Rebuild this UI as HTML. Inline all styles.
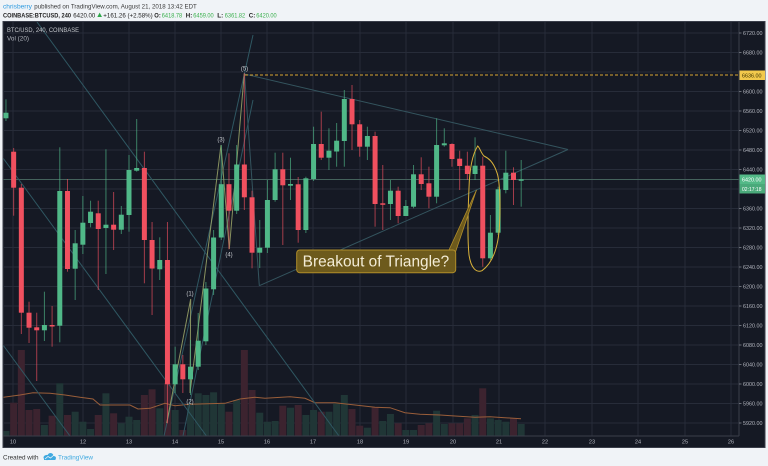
<!DOCTYPE html>
<html><head><meta charset="utf-8"><style>
html,body{margin:0;padding:0;background:#f0f3f7;}
svg{display:block;}
text{font-family:"Liberation Sans",sans-serif;}
</style></head><body>
<svg width="768" height="466" viewBox="0 0 768 466" xmlns="http://www.w3.org/2000/svg">
<rect x="0" y="0" width="768" height="466" fill="#f0f3f7"/>
<!-- header -->
<text x="3" y="8.3" font-size="6.5" fill="#2f9be0" textLength="29" lengthAdjust="spacingAndGlyphs">chrisberry</text>
<text x="34.3" y="8.3" font-size="6.5" fill="#3a3a3a" textLength="162.5" lengthAdjust="spacingAndGlyphs">published on TradingView.com, August 21, 2018 13:42 EDT</text>
<text x="3" y="17.3" font-size="6.5" font-weight="bold" fill="#222" textLength="68" lengthAdjust="spacingAndGlyphs">COINBASE:BTCUSD, 240</text>
<text x="73.3" y="17.3" font-size="6.5" fill="#222" textLength="22" lengthAdjust="spacingAndGlyphs">6420.00</text>
<polygon points="97.3,17 102,17 99.65,12.6" fill="#2ea84a"/>
<text x="103.3" y="17.3" font-size="6.5" fill="#222" textLength="49.4" lengthAdjust="spacingAndGlyphs">+161.26 (+2.58%)</text>
<text x="154.3" y="17.3" font-size="6.5" font-weight="bold" fill="#222" textLength="6.5" lengthAdjust="spacingAndGlyphs">O:</text>
<text x="161.8" y="17.3" font-size="6.5" fill="#3bb04e" textLength="20.4" lengthAdjust="spacingAndGlyphs">6418.78</text>
<text x="185.8" y="17.3" font-size="6.5" font-weight="bold" fill="#222" textLength="6.5" lengthAdjust="spacingAndGlyphs">H:</text>
<text x="193.3" y="17.3" font-size="6.5" fill="#3bb04e" textLength="20.4" lengthAdjust="spacingAndGlyphs">6459.00</text>
<text x="217.3" y="17.3" font-size="6.5" font-weight="bold" fill="#222" textLength="6" lengthAdjust="spacingAndGlyphs">L:</text>
<text x="224.8" y="17.3" font-size="6.5" fill="#3bb04e" textLength="20.4" lengthAdjust="spacingAndGlyphs">6361.82</text>
<text x="248.8" y="17.3" font-size="6.5" font-weight="bold" fill="#222" textLength="6.5" lengthAdjust="spacingAndGlyphs">C:</text>
<text x="256.3" y="17.3" font-size="6.5" fill="#3bb04e" textLength="20.4" lengthAdjust="spacingAndGlyphs">6420.00</text>

<!-- chart frame -->
<rect x="3" y="21.5" width="762" height="426" fill="#151924" stroke="#3a3e4a" stroke-width="1"/>
<defs><clipPath id="pc"><rect x="3.5" y="22" width="735.5" height="414"/></clipPath></defs>

<!-- grid -->
<g stroke="#272c39" stroke-width="1">
<line x1="3" y1="33" x2="739" y2="33"/><line x1="3" y1="52.5" x2="739" y2="52.5"/><line x1="3" y1="72" x2="739" y2="72"/><line x1="3" y1="91.5" x2="739" y2="91.5"/><line x1="3" y1="111" x2="739" y2="111"/><line x1="3" y1="130.5" x2="739" y2="130.5"/><line x1="3" y1="150" x2="739" y2="150"/><line x1="3" y1="169.5" x2="739" y2="169.5"/><line x1="3" y1="189" x2="739" y2="189"/><line x1="3" y1="208.5" x2="739" y2="208.5"/><line x1="3" y1="228" x2="739" y2="228"/><line x1="3" y1="247.5" x2="739" y2="247.5"/><line x1="3" y1="267" x2="739" y2="267"/><line x1="3" y1="286.5" x2="739" y2="286.5"/><line x1="3" y1="306" x2="739" y2="306"/><line x1="3" y1="325.5" x2="739" y2="325.5"/><line x1="3" y1="345" x2="739" y2="345"/><line x1="3" y1="364.5" x2="739" y2="364.5"/><line x1="3" y1="384" x2="739" y2="384"/><line x1="3" y1="403.5" x2="739" y2="403.5"/><line x1="3" y1="423" x2="739" y2="423"/>
<line x1="13" y1="22" x2="13" y2="436"/><line x1="83" y1="22" x2="83" y2="436"/><line x1="129" y1="22" x2="129" y2="436"/><line x1="175" y1="22" x2="175" y2="436"/><line x1="221" y1="22" x2="221" y2="436"/><line x1="267" y1="22" x2="267" y2="436"/><line x1="313" y1="22" x2="313" y2="436"/><line x1="360" y1="22" x2="360" y2="436"/><line x1="406" y1="22" x2="406" y2="436"/><line x1="453" y1="22" x2="453" y2="436"/><line x1="499" y1="22" x2="499" y2="436"/><line x1="545" y1="22" x2="545" y2="436"/><line x1="592" y1="22" x2="592" y2="436"/><line x1="638" y1="22" x2="638" y2="436"/><line x1="685" y1="22" x2="685" y2="436"/><line x1="731" y1="22" x2="731" y2="436"/>
</g>

<g clip-path="url(#pc)">
<!-- volume -->
<g fill="#3c232f">
<rect x="10.15" y="402.7" width="7" height="33.3"/><rect x="17.84" y="350" width="7" height="86"/><rect x="25.53" y="410" width="7" height="26"/><rect x="33.22" y="409" width="7" height="27"/><rect x="48.6" y="415.7" width="7" height="20.3"/><rect x="63.98" y="415" width="7" height="21"/><rect x="94.74" y="415" width="7" height="21"/><rect x="110.12" y="413.3" width="7" height="22.7"/><rect x="140.88" y="395" width="7" height="41"/><rect x="148.57" y="389.3" width="7" height="46.7"/><rect x="163.95" y="383" width="7" height="53"/><rect x="179.33" y="430" width="7" height="6"/><rect x="225.47" y="411.7" width="7" height="24.3"/><rect x="240.85" y="350" width="7" height="86"/><rect x="248.54" y="390" width="7" height="46"/><rect x="279.3" y="405.7" width="7" height="30.3"/><rect x="294.68" y="405" width="7" height="31"/><rect x="317.75" y="411.7" width="7" height="24.3"/><rect x="348.51" y="409" width="7" height="27"/><rect x="356.2" y="425.7" width="7" height="10.3"/><rect x="371.58" y="407.3" width="7" height="28.7"/><rect x="394.65" y="423.3" width="7" height="12.7"/><rect x="417.72" y="425" width="7" height="11"/><rect x="425.41" y="423.3" width="7" height="12.7"/><rect x="448.48" y="423.3" width="7" height="12.7"/><rect x="456.17" y="423.3" width="7" height="12.7"/><rect x="463.86" y="418.3" width="7" height="17.7"/><rect x="479.24" y="388.3" width="7" height="47.7"/><rect x="510" y="418.3" width="7" height="17.7"/>
</g>
<g fill="#203636">
<rect x="2.46" y="431" width="7" height="5"/><rect x="40.91" y="425" width="7" height="11"/><rect x="56.29" y="383.3" width="7" height="52.7"/><rect x="71.67" y="411.7" width="7" height="24.3"/><rect x="79.36" y="421.7" width="7" height="14.3"/><rect x="87.05" y="429" width="7" height="7"/><rect x="102.43" y="393.3" width="7" height="42.7"/><rect x="117.81" y="423.3" width="7" height="12.7"/><rect x="125.5" y="416.7" width="7" height="19.3"/><rect x="133.19" y="420" width="7" height="16"/><rect x="156.26" y="408.3" width="7" height="27.7"/><rect x="171.64" y="410" width="7" height="26"/><rect x="187.02" y="403.3" width="7" height="32.7"/><rect x="194.71" y="393.3" width="7" height="42.7"/><rect x="202.4" y="395" width="7" height="41"/><rect x="210.09" y="392.3" width="7" height="43.7"/><rect x="217.78" y="403.3" width="7" height="32.7"/><rect x="233.16" y="400" width="7" height="36"/><rect x="256.23" y="412.7" width="7" height="23.3"/><rect x="263.92" y="421.7" width="7" height="14.3"/><rect x="271.61" y="421" width="7" height="15"/><rect x="286.99" y="407.7" width="7" height="28.3"/><rect x="302.37" y="415" width="7" height="21"/><rect x="310.06" y="410" width="7" height="26"/><rect x="325.44" y="411.7" width="7" height="24.3"/><rect x="333.13" y="403.3" width="7" height="32.7"/><rect x="340.82" y="395" width="7" height="41"/><rect x="363.89" y="427.7" width="7" height="8.3"/><rect x="379.27" y="421" width="7" height="15"/><rect x="386.96" y="414" width="7" height="22"/><rect x="402.34" y="430" width="7" height="6"/><rect x="410.03" y="430" width="7" height="6"/><rect x="433.1" y="410.7" width="7" height="25.3"/><rect x="440.79" y="424" width="7" height="12"/><rect x="471.55" y="415" width="7" height="21"/><rect x="486.93" y="418.3" width="7" height="17.7"/><rect x="494.62" y="420" width="7" height="16"/><rect x="502.31" y="421.7" width="7" height="14.3"/><rect x="517.69" y="424" width="7" height="12"/>
</g>
<!-- volume MA -->
<polyline fill="none" stroke="#9a5e3a" stroke-width="1" points="3,397.3 20,395 33,392.7 50,393.3 65,395 80,397.3 93,399 100,405 130,405 138,409 150,408.3 165,403.3 175,405.7 190,404.3 225,403.3 240,399 255,397.3 265,398.3 290,396.7 305,398.3 315,402.7 335,402.7 355,405 375,407.3 390,407.7 405,412.7 420,414.3 440,415 455,416 475,417.3 490,416.7 505,417.7 521,418.7"/>

<!-- horizontal price line -->
<line x1="3" y1="179.5" x2="739" y2="179.5" stroke="#44625c" stroke-width="1"/>

<!-- diagonal trend lines -->
<g stroke="#2f5762" stroke-width="1" fill="none">
<line x1="37" y1="22" x2="339" y2="436"/>
<line x1="3" y1="158" x2="206.5" y2="436"/>
<line x1="3" y1="345" x2="70" y2="436"/>
<line x1="253" y1="35" x2="164" y2="436"/>
<line x1="253" y1="100" x2="183" y2="436"/>
</g>
<!-- triangle -->
<g stroke="#34545e" stroke-width="1" fill="none">
<line x1="244.5" y1="74" x2="568" y2="149.5"/>
<line x1="259.3" y1="285.7" x2="568" y2="149.5"/>
<line x1="244.5" y1="74" x2="259.3" y2="285.7"/>
</g>
<!-- wave lines -->
<polyline fill="none" stroke="#9ea86a" stroke-width="1" opacity="0.85" points="166.7,423 190.7,299 190,393 221,145 229.3,249 244.3,73.3"/>

<!-- candles -->
<g id="wk" opacity="0.65">
<g fill="#50b888">
<rect x="5.46" y="99.3" width="1" height="21.7"/><rect x="43.91" y="291.7" width="1" height="49.3"/><rect x="59.29" y="147.3" width="1" height="195"/><rect x="74.67" y="230" width="1" height="70"/><rect x="82.36" y="196" width="1" height="58"/><rect x="90.05" y="200.7" width="1" height="26.6"/><rect x="105.43" y="149.3" width="1" height="124.7"/><rect x="120.81" y="206" width="1" height="28"/><rect x="128.5" y="155" width="1" height="76.7"/><rect x="136.19" y="119" width="1" height="52.7"/><rect x="159.26" y="237.3" width="1" height="42.7"/><rect x="174.64" y="346.7" width="1" height="46.3"/><rect x="190.02" y="340" width="1" height="55"/><rect x="197.71" y="313" width="1" height="57"/><rect x="205.4" y="282" width="1" height="63"/><rect x="213.09" y="230" width="1" height="65"/><rect x="220.78" y="145" width="1" height="95"/><rect x="236.16" y="145" width="1" height="69"/><rect x="259.23" y="220" width="1" height="48"/><rect x="266.92" y="180" width="1" height="73"/><rect x="274.61" y="152.7" width="1" height="49"/><rect x="289.99" y="157.7" width="1" height="42.3"/><rect x="305.37" y="176.7" width="1" height="56.3"/><rect x="313.06" y="126.7" width="1" height="54.3"/><rect x="328.44" y="128.3" width="1" height="41.7"/><rect x="336.13" y="123" width="1" height="43.7"/><rect x="343.82" y="90" width="1" height="76.7"/><rect x="366.89" y="126.7" width="1" height="33.3"/><rect x="389.96" y="180" width="1" height="40"/><rect x="405.34" y="200" width="1" height="13.3"/><rect x="413.03" y="165" width="1" height="43.3"/><rect x="436.1" y="118.3" width="1" height="85"/><rect x="443.79" y="128.3" width="1" height="18.4"/><rect x="474.55" y="137.3" width="1" height="42.7"/><rect x="489.93" y="215" width="1" height="45"/><rect x="497.62" y="186.7" width="1" height="48.3"/><rect x="505.31" y="150.7" width="1" height="42.6"/><rect x="520.69" y="160" width="1" height="46.7"/>
</g>
<g fill="#f0505f">
<rect x="13.15" y="148" width="1" height="67.7"/><rect x="20.84" y="184" width="1" height="150"/><rect x="28.53" y="301.7" width="1" height="41.3"/><rect x="36.22" y="312.7" width="1" height="68.3"/><rect x="51.6" y="306" width="1" height="40.7"/><rect x="66.98" y="179" width="1" height="92.7"/><rect x="97.74" y="200.7" width="1" height="89.3"/><rect x="113.12" y="192" width="1" height="58"/><rect x="143.88" y="151.7" width="1" height="131.6"/><rect x="151.57" y="222" width="1" height="93"/><rect x="166.95" y="222" width="1" height="201.3"/><rect x="182.33" y="355" width="1" height="38"/><rect x="228.47" y="153.3" width="1" height="96"/><rect x="243.85" y="73.3" width="1" height="136.7"/><rect x="251.54" y="190.7" width="1" height="77.6"/><rect x="282.3" y="152.7" width="1" height="92.3"/><rect x="297.68" y="177" width="1" height="65.7"/><rect x="320.75" y="111.7" width="1" height="48.3"/><rect x="351.51" y="85" width="1" height="65"/><rect x="359.2" y="120" width="1" height="36.7"/><rect x="374.58" y="131.7" width="1" height="95"/><rect x="382.27" y="165" width="1" height="65"/><rect x="397.65" y="186.7" width="1" height="36.6"/><rect x="420.72" y="157.3" width="1" height="32.7"/><rect x="428.41" y="166.7" width="1" height="41.6"/><rect x="451.48" y="143.3" width="1" height="23.4"/><rect x="459.17" y="150.7" width="1" height="39.3"/><rect x="466.86" y="151.7" width="1" height="28.3"/><rect x="482.24" y="156.7" width="1" height="110"/><rect x="513" y="167.3" width="1" height="37.7"/>
</g>
</g>
<g fill="#50b888">
<rect x="3.46" y="112.7" width="5" height="5.6"/><rect x="41.91" y="325" width="5" height="5.3"/><rect x="57.29" y="191" width="5" height="134.7"/><rect x="72.67" y="243.3" width="5" height="25.4"/><rect x="80.36" y="222.7" width="5" height="22"/><rect x="88.05" y="211.7" width="5" height="11.3"/><rect x="103.43" y="224.7" width="5" height="3.3"/><rect x="118.81" y="214.7" width="5" height="15"/><rect x="126.5" y="170" width="5" height="45"/><rect x="134.19" y="168" width="5" height="2.7"/><rect x="157.26" y="260" width="5" height="9.3"/><rect x="172.64" y="364.3" width="5" height="20"/><rect x="188.02" y="366.7" width="5" height="12.6"/><rect x="195.71" y="340.7" width="5" height="26"/><rect x="203.4" y="288.5" width="5" height="52.8"/><rect x="211.09" y="237.5" width="5" height="51.8"/><rect x="218.78" y="184.2" width="5" height="53.3"/><rect x="234.16" y="164.5" width="5" height="46.2"/><rect x="257.23" y="247.7" width="5" height="5"/><rect x="264.92" y="200" width="5" height="47.7"/><rect x="272.61" y="169.3" width="5" height="30.7"/><rect x="287.99" y="184" width="5" height="1.7"/><rect x="303.37" y="178.3" width="5" height="51.7"/><rect x="311.06" y="144" width="5" height="35"/><rect x="326.44" y="150.7" width="5" height="7"/><rect x="334.13" y="140.7" width="5" height="10.8"/><rect x="341.82" y="99" width="5" height="42"/><rect x="364.89" y="136" width="5" height="10.7"/><rect x="387.96" y="190.7" width="5" height="13.3"/><rect x="403.34" y="206" width="5" height="10"/><rect x="411.03" y="174.3" width="5" height="32.4"/><rect x="434.1" y="145" width="5" height="51.7"/><rect x="441.79" y="143.3" width="5" height="2"/><rect x="472.55" y="165.7" width="5" height="8.3"/><rect x="487.93" y="232.7" width="5" height="25.6"/><rect x="495.62" y="189.3" width="5" height="43.4"/><rect x="503.31" y="172.7" width="5" height="17.3"/><rect x="518.69" y="179.3" width="5" height="1.5"/>
</g>
<g fill="#f0505f">
<rect x="11.15" y="151.7" width="5" height="36"/><rect x="18.84" y="187.7" width="5" height="125"/><rect x="26.53" y="312.7" width="5" height="15"/><rect x="34.22" y="327.3" width="5" height="3"/><rect x="49.6" y="325" width="5" height="1.5"/><rect x="64.98" y="191" width="5" height="78"/><rect x="95.74" y="213.3" width="5" height="15.7"/><rect x="111.12" y="224.7" width="5" height="5"/><rect x="141.88" y="168" width="5" height="72"/><rect x="149.57" y="240" width="5" height="28.5"/><rect x="164.95" y="260" width="5" height="124.3"/><rect x="180.33" y="364.3" width="5" height="15"/><rect x="226.47" y="184.2" width="5" height="26.5"/><rect x="241.85" y="164.5" width="5" height="32.8"/><rect x="249.54" y="197.3" width="5" height="55.4"/><rect x="280.3" y="169.3" width="5" height="16"/><rect x="295.68" y="184.3" width="5" height="45.7"/><rect x="318.75" y="144" width="5" height="13.7"/><rect x="349.51" y="99" width="5" height="25.3"/><rect x="357.2" y="124.3" width="5" height="22.4"/><rect x="372.58" y="136" width="5" height="68"/><rect x="380.27" y="203.3" width="5" height="1.5"/><rect x="395.65" y="190.7" width="5" height="25.3"/><rect x="418.72" y="174.3" width="5" height="9.7"/><rect x="426.41" y="183.3" width="5" height="13.4"/><rect x="449.48" y="144" width="5" height="15"/><rect x="457.17" y="158.7" width="5" height="7.3"/><rect x="464.86" y="165.7" width="5" height="8.3"/><rect x="480.24" y="165.7" width="5" height="92.6"/><rect x="511" y="172.7" width="5" height="7.3"/>
</g>

<!-- yellow dashed level -->
<line x1="245" y1="75" x2="739" y2="75" stroke="#d9a532" stroke-width="1" stroke-dasharray="3,2"/>

<!-- wave labels -->
<g font-size="6" fill="#c4c7cc" text-anchor="middle">
<text x="190" y="295.5">(1)</text>
<text x="190" y="403.5">(2)</text>
<text x="221" y="141.5">(3)</text>
<text x="229" y="256.5">(4)</text>
<text x="244.5" y="70.5">(5)</text>
</g>

<!-- ellipse annotation -->
<path d="M477.7,146 C480,148 481,153 484,156 C488,158 493,161 496.7,172 C500,180 500.5,205 499.5,225 C498.5,245 494,262 482,270.7 C476,273 471,268 469,255 C467.5,240 468,210 469,188 C469.5,172 472,155 477.7,146 Z" fill="none" stroke="#d9b23a" stroke-width="1"/>

<!-- callout -->
<polygon points="448.5,251 476.5,190 455.5,252" fill="#6d5a1c" stroke="#b08d2a" stroke-width="0.8"/>
<rect x="296.7" y="250" width="159" height="22.7" rx="3" ry="3" fill="#6d5a1c" stroke="#b08d2a" stroke-width="1"/>
<text x="302.7" y="266.3" font-size="15.3" fill="#f3ecd6" textLength="146.5" lengthAdjust="spacingAndGlyphs">Breakout of Triangle?</text>

<!-- chart legend -->
<text x="7" y="32" font-size="6" fill="#c4c7cc" textLength="72" lengthAdjust="spacingAndGlyphs">BTC/USD, 240, COINBASE</text>
<text x="7" y="40.5" font-size="6" fill="#aeb2ba" textLength="22" lengthAdjust="spacingAndGlyphs">Vol (20)</text>
</g>

<!-- axes separators -->
<line x1="739" y1="22" x2="739" y2="436" stroke="#3a3e4a" stroke-width="1"/>
<line x1="3" y1="436" x2="739" y2="436" stroke="#3a3e4a" stroke-width="1"/>

<!-- price axis -->
<g stroke="#6a6e78" stroke-width="1">
<line x1="739" y1="33" x2="741.5" y2="33"/><line x1="739" y1="52.5" x2="741.5" y2="52.5"/><line x1="739" y1="91.5" x2="741.5" y2="91.5"/><line x1="739" y1="111" x2="741.5" y2="111"/><line x1="739" y1="130.5" x2="741.5" y2="130.5"/><line x1="739" y1="150" x2="741.5" y2="150"/><line x1="739" y1="169.5" x2="741.5" y2="169.5"/><line x1="739" y1="208.5" x2="741.5" y2="208.5"/><line x1="739" y1="228" x2="741.5" y2="228"/><line x1="739" y1="247.5" x2="741.5" y2="247.5"/><line x1="739" y1="267" x2="741.5" y2="267"/><line x1="739" y1="286.5" x2="741.5" y2="286.5"/><line x1="739" y1="306" x2="741.5" y2="306"/><line x1="739" y1="325.5" x2="741.5" y2="325.5"/><line x1="739" y1="345" x2="741.5" y2="345"/><line x1="739" y1="364.5" x2="741.5" y2="364.5"/><line x1="739" y1="384" x2="741.5" y2="384"/><line x1="739" y1="403.5" x2="741.5" y2="403.5"/><line x1="739" y1="423" x2="741.5" y2="423"/>
</g>
<g font-size="5.6" fill="#b2b5be">
<text x="743" y="35" textLength="19.5" lengthAdjust="spacingAndGlyphs">6720.00</text>
<text x="743" y="54.5" textLength="19.5" lengthAdjust="spacingAndGlyphs">6680.00</text>
<text x="743" y="93.5" textLength="19.5" lengthAdjust="spacingAndGlyphs">6600.00</text>
<text x="743" y="113" textLength="19.5" lengthAdjust="spacingAndGlyphs">6560.00</text>
<text x="743" y="132.5" textLength="19.5" lengthAdjust="spacingAndGlyphs">6520.00</text>
<text x="743" y="152" textLength="19.5" lengthAdjust="spacingAndGlyphs">6480.00</text>
<text x="743" y="171.5" textLength="19.5" lengthAdjust="spacingAndGlyphs">6440.00</text>
<text x="743" y="210.5" textLength="19.5" lengthAdjust="spacingAndGlyphs">6360.00</text>
<text x="743" y="230" textLength="19.5" lengthAdjust="spacingAndGlyphs">6320.00</text>
<text x="743" y="249.5" textLength="19.5" lengthAdjust="spacingAndGlyphs">6280.00</text>
<text x="743" y="269" textLength="19.5" lengthAdjust="spacingAndGlyphs">6240.00</text>
<text x="743" y="288.5" textLength="19.5" lengthAdjust="spacingAndGlyphs">6200.00</text>
<text x="743" y="308" textLength="19.5" lengthAdjust="spacingAndGlyphs">6160.00</text>
<text x="743" y="327.5" textLength="19.5" lengthAdjust="spacingAndGlyphs">6120.00</text>
<text x="743" y="347" textLength="19.5" lengthAdjust="spacingAndGlyphs">6080.00</text>
<text x="743" y="366.5" textLength="19.5" lengthAdjust="spacingAndGlyphs">6040.00</text>
<text x="743" y="386" textLength="19.5" lengthAdjust="spacingAndGlyphs">6000.00</text>
<text x="743" y="405.5" textLength="19.5" lengthAdjust="spacingAndGlyphs">5960.00</text>
<text x="743" y="425" textLength="19.5" lengthAdjust="spacingAndGlyphs">5920.00</text>
</g>
<rect x="739.5" y="70.5" width="25.5" height="9.5" fill="#f2c94c"/>
<text x="742" y="77.3" font-size="5.6" fill="#3a3000" textLength="19.5" lengthAdjust="spacingAndGlyphs">6636.00</text>
<rect x="739.5" y="174.5" width="25.5" height="9.5" fill="#53b987"/>
<text x="742" y="181.3" font-size="5.6" fill="#ffffff" textLength="19.5" lengthAdjust="spacingAndGlyphs">6420.00</text>
<rect x="739.5" y="184" width="25.5" height="9.5" fill="#4aa97a"/>
<text x="742" y="190.8" font-size="5.6" fill="#ffffff" textLength="19.5" lengthAdjust="spacingAndGlyphs">02:17:18</text>

<!-- time axis -->
<g font-size="5.6" fill="#b2b5be" text-anchor="middle">
<text x="13" y="443.5">10</text><text x="83" y="443.5">12</text><text x="129" y="443.5">13</text><text x="175" y="443.5">14</text><text x="221" y="443.5">15</text><text x="267" y="443.5">16</text><text x="313" y="443.5">17</text><text x="360" y="443.5">18</text><text x="406" y="443.5">19</text><text x="453" y="443.5">20</text><text x="499" y="443.5">21</text><text x="545" y="443.5">22</text><text x="592" y="443.5">23</text><text x="638" y="443.5">24</text><text x="685" y="443.5">25</text><text x="731" y="443.5">26</text>
</g>

<!-- footer -->
<text x="3" y="459.5" font-size="6.5" fill="#333" textLength="35.5" lengthAdjust="spacingAndGlyphs">Created with</text>
<g fill="#3fa9e0">
<ellipse cx="47" cy="457.5" rx="3.5" ry="2.6"/>
<ellipse cx="50.5" cy="456" rx="3" ry="3"/>
<ellipse cx="53.5" cy="458" rx="2.5" ry="2"/>
<rect x="44" y="457.5" width="11.5" height="2.5"/>
</g>
<polyline points="45,459 48,456.5 50.5,458 54,455" fill="none" stroke="#f0f3f7" stroke-width="0.8"/>
<text x="58" y="459.5" font-size="6.5" fill="#3fa9e0" textLength="35" lengthAdjust="spacingAndGlyphs">TradingView</text>
</svg>
</body></html>
